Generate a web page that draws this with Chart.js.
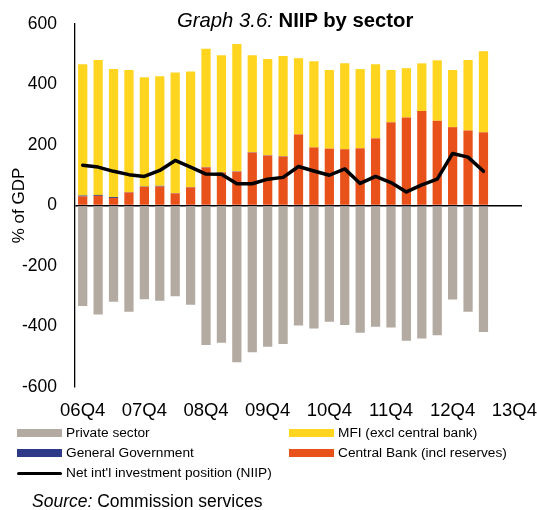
<!DOCTYPE html>
<html>
<head>
<meta charset="utf-8">
<script src="https://cdn.jsdelivr.net/npm/chart.js@4/dist/chart.umd.min.js"></script>
<style>
  html, body { margin: 0; padding: 0; background: #fff; }
  #wrap { position: relative; width: 537px; height: 510px; font-family: "Liberation Sans", Arial, sans-serif; color: #000; }
  #c { position: absolute; left: 0; top: 0; }
  .t { position: absolute; white-space: nowrap; }
  #title { left: 177px; top: 9px; font-size: 20.3px; }
  .lg { position: absolute; font-size: 13.7px; white-space: nowrap; line-height: 16px; }
  .sw { position: absolute; height: 8px; width: 45px; }
  #source { left: 32px; top: 491px; font-size: 17.5px; }
</style>
</head>
<body>
<div id="wrap">
  <canvas id="c" width="537" height="510"></canvas>
  <div id="title" class="t"><i>Graph 3.6:</i> <b>NIIP by sector</b></div>
  <div id="legend"></div>
  <div id="source" class="t"><i>Source:</i> Commission services</div>
</div>
<script>
const quarters = ["06Q4","07Q1","07Q2","07Q3","07Q4","08Q1","08Q2","08Q3","08Q4","09Q1","09Q2","09Q3","09Q4","10Q1","10Q2","10Q3","10Q4","11Q1","11Q2","11Q3","11Q4","12Q1","12Q2","12Q3","12Q4","13Q1","13Q2","13Q3","13Q4"];
const privateSector = [-332,-360,-318,-351,-310,-315,-300,-328,-461,-454,-518,-485,-467,-458,-394,-405,-382,-393,-419,-399,-400,-444,-437,-427,-309,-349,-415];
const mfi = [434,446,423,404,361,362,399,382,391,387,421,321,318,331,252,285,260,284,262,245,173,163,158,200,189,233,268];
const generalGov = [3,3,3,1,1,2,1,1,1,1,1,1,1,1,-3,-2,-2,-2,-2,-2,-3,-3,-3,-2,-2,-2,-3];
const centralBank = [30,32,25,43,62,63,40,60,126,109,112,175,165,162,235,192,188,186,189,222,275,291,312,280,259,248,242];
const niip = [133,127,113,102,96,116,149,127,104,103,72,72,87,93,129,114,100,121,73,96,76,45,68,87,172,160,113];
const yTicks = [-600,-400,-200,0,200,400,600];

const colors = {
  priv: '#B3AAA2',
  mfi: '#FFD520',
  gg: '#2E3A87',
  cb: '#E8521A',
  niip: '#000000'
};

const legendItems = [
  { label: 'Private sector', color: colors.priv, x: 17, y: 433, type: 'bar' },
  { label: 'MFI (excl central bank)', color: colors.mfi, x: 289, y: 433, type: 'bar' },
  { label: 'General Government', color: colors.gg, x: 17, y: 453, type: 'bar' },
  { label: 'Central Bank (incl reserves)', color: colors.cb, x: 289, y: 453, type: 'bar' },
  { label: "Net int'l investment position (NIIP)", color: colors.niip, x: 17, y: 473, type: 'line' }
];
const lg = document.getElementById('legend');
legendItems.forEach(it => {
  const sw = document.createElement('div');
  sw.className = 'sw';
  sw.style.left = it.x + 'px';
  sw.style.background = it.color;
  if (it.type === 'line') { sw.style.height = '3px'; sw.style.top = (it.y - 1.5) + 'px'; sw.style.borderRadius = '2px'; }
  else { sw.style.top = (it.y - 4) + 'px'; }
  lg.appendChild(sw);
  const tx = document.createElement('div');
  tx.className = 'lg';
  tx.style.left = (it.x + 49) + 'px';
  tx.style.top = (it.y - 8) + 'px';
  tx.textContent = it.label;
  lg.appendChild(tx);
});

const barOpts = { barPercentage: 0.6, categoryPercentage: 1.0, borderWidth: 0, stack: 's' };

new Chart(document.getElementById('c'), {
  data: {
    labels: quarters,
    datasets: [
      { type: 'line', label: "Net int'l investment position (NIIP)", data: niip, borderColor: colors.niip, backgroundColor: colors.niip, borderWidth: 3.5, pointRadius: 0, tension: 0, order: 0, borderJoinStyle: 'round', borderCapStyle: 'round' },
      Object.assign({ type: 'bar', label: 'Central Bank (incl reserves)', data: centralBank, backgroundColor: colors.cb, order: 1 }, barOpts),
      Object.assign({ type: 'bar', label: 'General Government', data: generalGov, backgroundColor: colors.gg, order: 1 }, barOpts),
      Object.assign({ type: 'bar', label: 'MFI (excl central bank)', data: mfi, backgroundColor: colors.mfi, order: 1 }, barOpts),
      Object.assign({ type: 'bar', label: 'Private sector', data: privateSector, backgroundColor: colors.priv, order: 1 }, barOpts)
    ]
  },
  options: {
    responsive: false,
    animation: false,
    events: [],
    layout: { padding: { left: 0, right: 15, top: 24, bottom: 0 } },
    plugins: { legend: { display: false }, tooltip: { enabled: false }, title: { display: false } },
    scales: {
      x: {
        stacked: true,
        grid: { display: false, drawTicks: false },
        border: { display: false },
        ticks: {
          autoSkip: false, maxRotation: 0, minRotation: 0, padding: 13,
          color: '#000', font: { family: 'Liberation Sans', size: 18.5 },
          callback: function(v, i) { const l = quarters[i]; return l.endsWith('Q4') ? l : ''; }
        },
        afterFit: s => { s.height = 123; s.paddingLeft = 0; s.paddingRight = 0; }
      },
      y: {
        stacked: true,
        min: -600, max: 600,
        z: 1,
        afterBuildTicks: s => { s.ticks = yTicks.map(v => ({ value: v })); },
        grid: { drawTicks: false, lineWidth: 1.5, color: c => (c.tick && c.tick.value === 0) ? '#000' : 'rgba(0,0,0,0)' },
        border: { display: true, color: '#000', width: 1.3 },
        ticks: { padding: 18, color: '#000', font: { family: 'Liberation Sans', size: 17.5 } },
        title: { display: true, text: '% of GDP', color: '#000', font: { family: 'Liberation Sans', size: 17 }, padding: { top: 9, bottom: 0 } },
        afterFit: s => { s.width = 75; s.paddingTop = 0; s.paddingBottom = 0; }
      }
    }
  }
});
</script>
</body>
</html>
